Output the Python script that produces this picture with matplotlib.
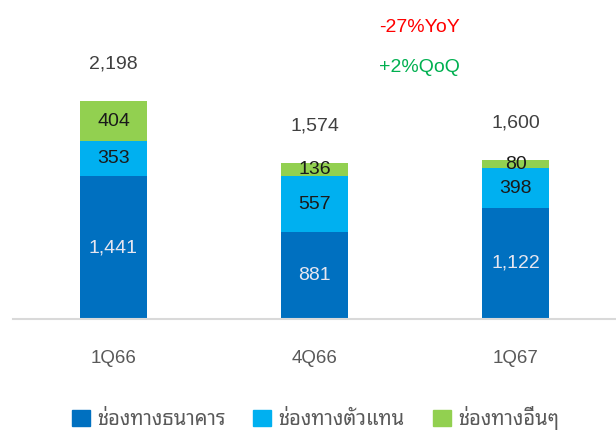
import matplotlib
matplotlib.use('Agg')
import matplotlib.pyplot as plt
from matplotlib.patches import Patch
import numpy as np

plt.rcParams['font.family'] = ['Liberation Sans', 'Noto Sans Thai Looped', 'DejaVu Sans']

quarters = ['1Q66', '4Q66', '1Q67']
bank = [1441, 881, 1122]
agent = [353, 557, 398]
other = [404, 136, 80]
series_names = ['ช่องทางธนาคาร', 'ช่องทางตัวแทน', 'ช่องทางอื่นๆ']
colors = ['#0070C0', '#00B0F0', '#92D050']
yoy_label = '-27%YoY'
qoq_label = '+2%QoQ'

fig = plt.figure(figsize=(6.16, 4.33), dpi=100)
ax = fig.add_axes([13 / 616, 114 / 433, 603 / 616, 319 / 433])

x = np.arange(len(quarters))
bank = np.array(bank)
agent = np.array(agent)
other = np.array(other)
totals = bank + agent + other

ax.bar(x, bank, width=0.333, color=colors[0])
ax.bar(x, agent, width=0.333, bottom=bank, color=colors[1])
ax.bar(x, other, width=0.333, bottom=bank + agent, color=colors[2])

fs = 14
for i in range(len(x)):
    ax.text(x[i], bank[i] / 2, '{:,}'.format(bank[i]), ha='center', va='center',
            fontsize=fs, color='#E6E6F0')
    ax.text(x[i], bank[i] + agent[i] / 2, '{:,}'.format(agent[i]), ha='center', va='center',
            fontsize=fs, color='#1A1A1A')
    ax.text(x[i], bank[i] + agent[i] + other[i] / 2, '{:,}'.format(other[i]), ha='center',
            va='center', fontsize=fs, color='#1A1A1A')
    ax.text(x[i], totals[i] + 375, '{:,}'.format(totals[i]), ha='center', va='center',
            fontsize=fs, color='#404040')

ax.text(1.52, 2945, yoy_label, ha='center', va='center', fontsize=fs, color='#FF0000')
ax.text(1.52, 2540, qoq_label, ha='center', va='center', fontsize=fs, color='#00B050')

ax.set_xlim(-0.5, 2.5)
ax.set_ylim(0, 3219)
ax.set_xticks(x)
ax.set_xticklabels(quarters, fontsize=13.5, color='#595959')
ax.tick_params(axis='x', length=0, pad=22)
ax.set_yticks([])
for s in ['top', 'left', 'right']:
    ax.spines[s].set_visible(False)
ax.spines['bottom'].set_color('#D9D9D9')
ax.spines['bottom'].set_linewidth(1.5)

handles = [Patch(color=c) for c in colors]
fig.legend(handles, series_names, loc='center', bbox_to_anchor=(0.512, 1 - 418 / 433),
           ncol=3, frameon=False, fontsize=14.5, handlelength=0.9, handleheight=0.9,
           handletextpad=0.35, columnspacing=1.4, labelcolor='#595959')

fig.savefig('out.png', dpi=100)
